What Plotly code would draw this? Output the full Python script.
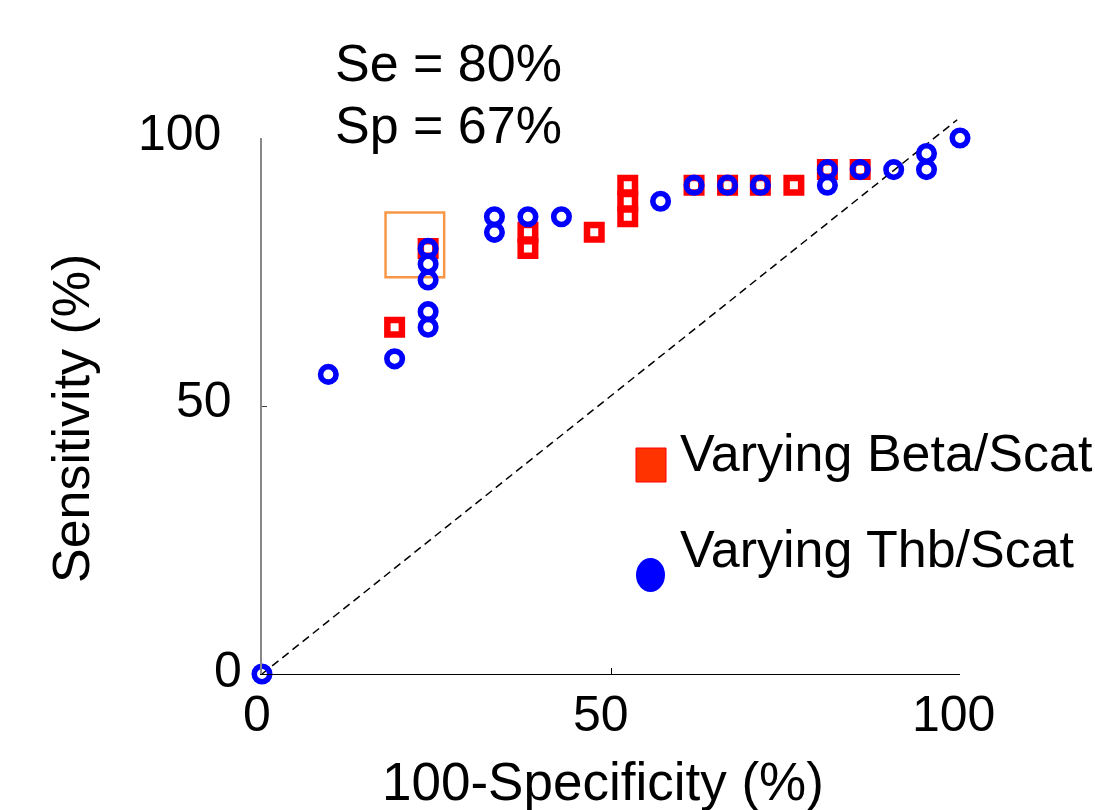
import plotly.graph_objects as go

# ---- data ----
beta_x = [19.0, 23.8, 38.1, 38.1, 47.6, 52.4, 52.4, 52.4, 61.9, 66.7, 71.4, 76.2, 81.0, 85.7]
beta_y = [64.7, 79.4, 82.4, 79.4, 82.4, 91.2, 88.2, 85.3, 91.2, 91.2, 91.2, 91.2, 94.1, 94.1]

thb_x = [0, 9.5, 19.0, 23.8, 23.8, 23.8, 23.8, 23.8, 33.3, 33.3, 38.1, 42.9, 57.1,
         61.9, 66.7, 71.4, 81.0, 81.0, 85.7, 90.5, 95.2, 95.2, 100]
thb_y = [0, 55.9, 58.8, 64.7, 67.6, 73.5, 76.5, 79.4, 85.3, 82.4, 85.3, 85.3, 88.2,
         91.2, 91.2, 91.2, 94.1, 91.2, 94.1, 94.1, 97.1, 94.1, 100]

tick_vals = [0, 50, 100]
tick_text = ["0", "50", "100"]
series_names = ["Varying Beta/Scat", "Varying Thb/Scat"]
se_text = "Se = 80%"
sp_text = "Sp = 67%"

W, H = 1095, 810
L, R, T, B = 262, 135, 138, 136
PW, PH = W - L - R, H - T - B
FONT = "Liberation Sans, Arial, sans-serif"


def px_x(p):
    return (p - L) / PW


def px_y(p):
    return (H - B - p) / PH


fig = go.Figure()
fig.add_trace(go.Scatter(
    x=beta_x, y=beta_y, mode="markers", name=series_names[0],
    marker=dict(symbol="square-open", size=14.5, color="#FF0000", line=dict(width=6.5, color="#FF0000")),
    cliponaxis=False, showlegend=False))
fig.add_trace(go.Scatter(
    x=thb_x, y=thb_y, mode="markers", name=series_names[1],
    marker=dict(symbol="circle-open", size=15.5, color="#0000FF", line=dict(width=5.6, color="#0000FF")),
    cliponaxis=False, showlegend=False))

shapes = [
    # chance diagonal
    dict(type="line", xref="paper", yref="paper", x0=0, y0=0, x1=0.996, y1=1.034,
         line=dict(color="black", width=1.5, dash="8px,5px"), layer="below"),
    # highlight box
    dict(type="rect", xref="x", yref="y", x0=17.7, x1=26.1, y0=74.0, y1=86.1,
         line=dict(color="#F79646", width=2.5), layer="below"),
    # legend symbols
    dict(type="rect", xref="paper", yref="paper", x0=px_x(636), x1=px_x(666),
         y0=px_y(482), y1=px_y(448), fillcolor="#FF3300", line=dict(color="#FF0000", width=1)),
    dict(type="circle", xref="paper", yref="paper", x0=px_x(636), x1=px_x(665),
         y0=px_y(592), y1=px_y(558), fillcolor="#0000FF", line=dict(width=0)),
]

ann = []


def text(t, x, y, size=52, xanchor="center", angle=0):
    ann.append(dict(text=t, x=px_x(x), y=px_y(y), xref="paper", yref="paper",
                    xanchor=xanchor, yanchor="middle", showarrow=False, textangle=angle,
                    font=dict(family=FONT, size=size, color="black")))


# y tick labels
for t, cx, cy in zip(tick_text, [228.3, 204, 179], [669.5, 400, 132.5]):
    text(t, cx, cy, size=50)
# x tick labels
for t, cx, cy in zip(tick_text, [257, 601, 953], [714, 714, 714]):
    text(t, cx, cy, size=50)

text("100-Specificity (%)", 603, 781.7, size=53)
text("Sensitivity (%)", 71, 419, size=52, angle=-90)
text(se_text, 333, 63.4, size=52, xanchor="left")
text(sp_text, 333, 125.3, size=52, xanchor="left")
text(series_names[0], 678, 453.4, size=52, xanchor="left")
text(series_names[1], 678, 549.2, size=52, xanchor="left")

fig.update_layout(
    width=W, height=H, margin=dict(l=L, r=R, t=T, b=B),
    paper_bgcolor="white", plot_bgcolor="white",
    shapes=shapes, annotations=ann,
    xaxis=dict(range=[0, 100], tickvals=tick_vals, showticklabels=False, showgrid=False,
               zeroline=False, showline=True, linecolor="black", linewidth=1.2,
               ticks="inside", ticklen=6, tickcolor="black", tickwidth=1),
    yaxis=dict(range=[0, 100], tickvals=tick_vals, showticklabels=False, showgrid=False,
               zeroline=False, showline=True, linecolor="#888888", linewidth=1.5,
               ticks="inside", ticklen=5, tickcolor="#444444", tickwidth=1),
)

fig.write_html("out.html")
